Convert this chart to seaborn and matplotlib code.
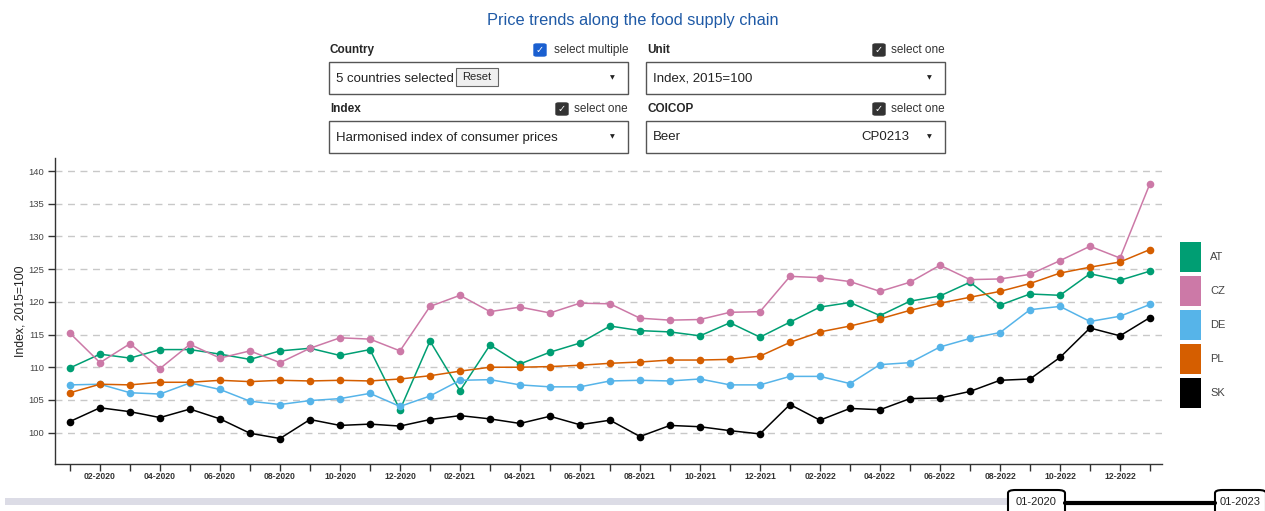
import numpy as np
import pandas as pd
import matplotlib
matplotlib.use("Agg")
import matplotlib.pyplot as plt
from matplotlib.patches import Rectangle, FancyBboxPatch
from matplotlib.lines import Line2D
import seaborn as sns

# monthly HICP, beer (CP0213), index 2015=100
months = pd.date_range("2020-01-01", "2023-01-01", freq="MS")
month_labels = list(months.strftime("%m-%Y"))

countries = ["AT", "CZ", "DE", "PL", "SK"]
colors = ["#009E73", "#CC79A7", "#56B4E9", "#D55E00", "#000000"]

at = [109.9, 112.0, 111.4, 112.7, 112.7, 112.0, 111.2, 112.5, 112.9, 111.8,
      112.7, 103.5, 114.0, 106.4, 113.4, 110.5, 112.3, 113.7, 116.3, 115.6,
      115.4, 114.8, 116.8, 114.6, 116.9, 119.2, 119.9, 117.9, 120.1, 120.9,
      123.0, 119.5, 121.2, 121.0, 124.3, 123.3, 124.7]
cz = [115.2, 110.7, 113.6, 109.8, 113.5, 111.4, 112.5, 110.7, 112.9, 114.5,
      114.3, 112.5, 119.3, 121.0, 118.5, 119.2, 118.3, 119.8, 119.7, 117.5,
      117.2, 117.3, 118.4, 118.5, 123.9, 123.7, 123.1, 121.6, 123.0, 125.6,
      123.4, 123.5, 124.2, 126.3, 128.5, 126.7, 138.1]
de = [107.3, 107.4, 106.1, 105.9, 107.6, 106.6, 104.8, 104.3, 104.9, 105.2,
      106.0, 104.0, 105.6, 108.0, 108.1, 107.3, 107.0, 107.0, 107.9, 108.0,
      107.9, 108.2, 107.3, 107.3, 108.6, 108.6, 107.5, 110.4, 110.7, 113.1,
      114.4, 115.3, 118.8, 119.3, 117.0, 117.8, 119.6]
pl = [106.1, 107.4, 107.3, 107.7, 107.7, 108.0, 107.8, 108.0, 107.9, 108.0,
      107.9, 108.2, 108.7, 109.4, 110.0, 110.0, 110.1, 110.3, 110.6, 110.8,
      111.1, 111.1, 111.2, 111.7, 113.8, 115.4, 116.3, 117.4, 118.7, 119.8,
      120.7, 121.6, 122.8, 124.4, 125.3, 126.1, 128.0]
sk = [101.7, 103.8, 103.2, 102.3, 103.6, 102.1, 99.9, 99.1, 102.0, 101.1,
      101.3, 101.0, 102.0, 102.6, 102.1, 101.4, 102.5, 101.2, 101.9, 99.4,
      101.1, 100.9, 100.3, 99.8, 104.3, 101.9, 103.7, 103.5, 105.2, 105.3,
      106.3, 108.0, 108.2, 111.5, 116.0, 114.8, 117.6]

series = {"AT": at, "CZ": cz, "DE": de, "PL": pl, "SK": sk}
n = len(months)
df = pd.DataFrame({
    "m": np.tile(np.arange(n), len(countries)),
    "country": np.repeat(countries, n),
    "value": np.concatenate([series[c] for c in countries]),
})

sns.set_style("white")
plt.rcParams["font.family"] = ["Liberation Sans", "DejaVu Sans"]

W, H = 1265, 511
fig = plt.figure(figsize=(W / 100, H / 100), dpi=100)


def fx(x):
    return x / W


def fy(y):
    return 1 - y / H


ax = fig.add_axes([fx(55), fy(464), fx(1162) - fx(55), fy(158) - fy(464)])

sns.lineplot(data=df, x="m", y="value", hue="country", hue_order=countries,
             palette=colors, marker="o", markersize=5.5, markeredgewidth=0,
             linewidth=1.1, ax=ax, legend=False)

ax.set_xlim(-0.5, 36.4)
ax.set_ylim(95.2, 142)
yt = np.arange(100, 141, 5)
ax.set_yticks(yt)
ax.set_yticklabels([str(v) for v in yt], fontsize=6.8, color="#444444")
for v in yt:
    ax.axhline(v, color="#c8c8c8", lw=1, ls=(0, (5, 4)), zorder=0)

ax.set_xticks(np.arange(n))
ax.set_xticklabels([lab if i % 2 == 1 else "" for i, lab in enumerate(month_labels)],
                   fontsize=6.2, fontweight="bold", color="#333333")
ax.tick_params(axis="both", direction="out", length=5, width=1, color="#333333", pad=3,
               bottom=True, left=True)
ax.tick_params(axis="x", pad=1)
ax.set_xlabel("")
ax.set_ylabel("Index, 2015=100", fontsize=8.8, color="#222222")
ax.yaxis.set_label_coords((27 - 55) / (1162 - 55), 0.5)
sns.despine(ax=ax)
for s in ["left", "bottom"]:
    ax.spines[s].set_color("#333333")
    ax.spines[s].set_linewidth(1)

# legend swatches
for i, (c, col) in enumerate(zip(countries, colors)):
    top = 242 + i * 34
    fig.add_artist(Rectangle((fx(1180), fy(top + 30)), fx(21), fy(top) - fy(top + 30),
                             facecolor=col, edgecolor="none", transform=fig.transFigure))
    fig.text(fx(1210), fy(top + 15), c, fontsize=8, color="#444444", va="center")

# title and selectors
fig.text(0.5, fy(21), "Price trends along the food supply chain", ha="center", va="center",
         fontsize=11.8, color="#1f5aa6")


def selector(x0, y0, label, mode, mode_w, value, checked_blue=False, right_text=None):
    fig.text(fx(x0 + 1), fy(y0 - 12), label, fontsize=8.5, fontweight="bold", va="center")
    fig.text(fx(x0 + 299), fy(y0 - 12), mode, fontsize=8.5, color="#333333", ha="right", va="center")
    bx = x0 + 299 - mode_w - 19
    box_col = "#1a5fd0" if checked_blue else "#333333"
    fig.add_artist(FancyBboxPatch((fx(bx), fy(y0 - 6)), fx(12), fy(y0 - 18) - fy(y0 - 6),
                                  boxstyle="round,pad=0,rounding_size=0.002",
                                  facecolor=box_col, edgecolor=box_col, transform=fig.transFigure))
    fig.text(fx(bx + 6), fy(y0 - 12), "\u2713", fontsize=7, color="white", ha="center",
             va="center", family="DejaVu Sans")
    fig.add_artist(Rectangle((fx(x0), fy(y0 + 32)), fx(299), fy(y0) - fy(y0 + 32),
                             facecolor="white", edgecolor="#555555", lw=1,
                             transform=fig.transFigure))
    fig.text(fx(x0 + 7), fy(y0 + 16.5), value, fontsize=9.5, color="#222222", va="center")
    if right_text:
        fig.text(fx(x0 + 263), fy(y0 + 16.5), right_text, fontsize=9.5, color="#222222",
                 ha="right", va="center")
    fig.text(fx(x0 + 283), fy(y0 + 16), "\u25BC", fontsize=4.5, color="#222222",
             ha="center", va="center", family="DejaVu Sans")


selector(329, 62, "Country", "select multiple", 75, "5 countries selected", checked_blue=True)
selector(646, 62, "Unit", "select one", 53, "Index, 2015=100")
selector(329, 121, "Index", "select one", 53, "Harmonised index of consumer prices")
selector(646, 121, "COICOP", "select one", 53, "Beer", right_text="CP0213")

# reset button
fig.add_artist(Rectangle((fx(456), fy(86)), fx(42), fy(68) - fy(86), facecolor="#efefef",
                         edgecolor="#666666", lw=0.8, transform=fig.transFigure))
fig.text(fx(477), fy(77), "Reset", fontsize=8, ha="center", va="center")

# time range slider at the bottom
fig.add_artist(Rectangle((fx(5), fy(505)), fx(1003), fy(498) - fy(505), facecolor="#dcdce6",
                         edgecolor="none", transform=fig.transFigure))
fig.add_artist(Line2D([fx(1065), fx(1215)], [fy(503), fy(503)], color="black", lw=3,
                      transform=fig.transFigure))
for x0, x1, lab in [(1008, 1065, "01-2020"), (1215, 1266, "01-2023")]:
    fig.add_artist(FancyBboxPatch((fx(x0), fy(520)), fx(x1 - x0), fy(490) - fy(520),
                                  boxstyle="round,pad=0,rounding_size=0.006",
                                  facecolor="white", edgecolor="black", lw=1.5,
                                  transform=fig.transFigure, clip_on=False))
    fig.text(fx((x0 + x1) / 2), fy(502), lab, fontsize=8, ha="center", va="center",
             color="#222222")

fig.savefig("out.png", dpi=100)
